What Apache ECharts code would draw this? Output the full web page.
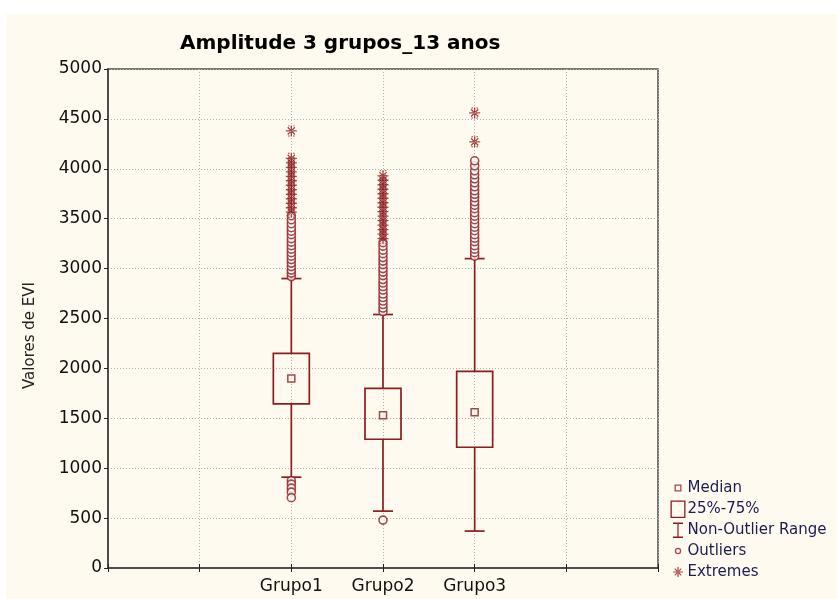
<!DOCTYPE html>
<html>
<head>
<meta charset="utf-8">
<script src="https://cdn.jsdelivr.net/npm/echarts@6/dist/echarts.min.js"></script>
<style>
html,body{margin:0;padding:0;background:#ffffff;width:837px;height:599px;overflow:hidden;}
#c{position:absolute;left:6px;top:14px;width:831px;height:585px;background:#fffaef;}
</style>
</head>
<body>
<div id="c"></div>
<script>
// ---- data ----
var categories = ['Grupo1', 'Grupo2', 'Grupo3'];
var medians = [1900, 1530, 1560];
var q1s = [1645, 1290, 1210];
var q3s = [2150, 1800, 1970];
var whiskerLow = [910, 570, 370];
var whiskerHigh = [2900, 2540, 3100];
var outliers1 = [875, 840, 800, 760, 705, 2920, 2955, 2985, 3020, 3055, 3090, 3125, 3160, 3195, 3230, 3265, 3300, 3340, 3375, 3410, 3450, 3490, 3530];
var extremes1 = [3565, 3610, 3655, 3700, 3745, 3790, 3835, 3880, 3925, 3970, 4015, 4060, 4105, 4380];
var outliers2 = [480, 2570, 2605, 2640, 2675, 2710, 2745, 2785, 2820, 2855, 2890, 2930, 2965, 3000, 3040, 3075, 3110, 3150, 3185, 3225, 3260];
var extremes2 = [3300, 3345, 3390, 3435, 3480, 3525, 3570, 3615, 3660, 3705, 3750, 3795, 3840, 3885, 3930];
var outliers3 = [3125, 3160, 3195, 3230, 3270, 3305, 3340, 3380, 3415, 3450, 3490, 3525, 3560, 3600, 3635, 3670, 3710, 3745, 3780, 3820, 3860, 3900, 3940, 3980, 4030, 4080];
var extremes3 = [4270, 4560];
var yTicks = [0, 500, 1000, 1500, 2000, 2500, 3000, 3500, 4000, 4500, 5000];

var RED = '#8c1d1d';
var FONT = 'DejaVu Sans, Liberation Sans, Arial, sans-serif';
var catPos = function (i) { return i + 2; };
var labelMap = {};
categories.forEach(function (c, i) { labelMap[catPos(i)] = c; });

function pts(i, arr) { return arr.map(function (v) { return [catPos(i), v]; }); }
var outlierData = [].concat(pts(0, outliers1), pts(1, outliers2), pts(2, outliers3));
var extremeData = [].concat(pts(0, extremes1), pts(1, extremes2), pts(2, extremes3));
var boxData = categories.map(function (c, i) { return [catPos(i), q1s[i], q3s[i]]; });
var whiskData = categories.map(function (c, i) { return [catPos(i), whiskerLow[i], q1s[i], q3s[i], whiskerHigh[i]]; });
var medData = categories.map(function (c, i) { return [catPos(i), medians[i]]; });

var ASTER = 'path://M4.4,0H5.6V10H4.4Z M0,4.4H10V5.6H0Z M1.3,2.1L2.1,1.3L8.7,7.9L7.9,8.7Z M8.7,2.1L7.9,1.3L1.3,7.9L2.1,8.7Z M2,0H3.5V0.9H2Z M6.5,0H8V0.9H6.5Z M2,9.1H3.5V10H2Z M6.5,9.1H8V10H6.5Z';
var FRAME = 'M0,0h0.01v0.01h-0.01Z M16,18h0.01v0.01h-0.01Z ';
var legendStyle = { color: RED, borderWidth: 0 };

var chart = echarts.init(document.getElementById('c'));
chart.setOption({
  animation: false,
  backgroundColor: '#fffaef',
  textStyle: { fontFamily: FONT },
  title: {
    text: 'Amplitude 3 grupos_13 anos',
    left: 169, top: 15,
    textStyle: { fontSize: 20, fontWeight: 'bold', color: '#000', fontFamily: FONT }
  },
  grid: { left: 102, top: 55, width: 550, height: 499, show: true, borderColor: '#4a4a4a', borderWidth: 1.5, backgroundColor: 'transparent' },
  legend: {
    orient: 'vertical', left: 659, top: 460, itemGap: 3, itemWidth: 17, itemHeight: 18,
    textStyle: { fontSize: 15, color: '#1c1c4e', padding: [0, 0, 0, -4], fontFamily: FONT },
    data: [
      { name: 'Median', icon: 'path://' + FRAME + 'M4.5,5.5H11.5V12.5H4.5Z M5.8,6.8V11.2H10.2V6.8Z', itemStyle: legendStyle },
      { name: '25%-75%', icon: 'path://' + FRAME + 'M0.5,0.5H15.5V18H0.5Z M1.8,1.8V16.7H14.2V1.8Z', itemStyle: legendStyle },
      { name: 'Non-Outlier Range', icon: 'path://' + FRAME + 'M3,1.5H13V2.9H3Z M7.4,2H8.6V16H7.4Z M3,15.6H13V17H3Z', itemStyle: legendStyle },
      { name: 'Outliers', icon: 'path://' + FRAME + 'M4.8,9A3.2,3.2 0 1,0 11.2,9A3.2,3.2 0 1,0 4.8,9Z M6.1,9A1.9,1.9 0 1,1 9.9,9A1.9,1.9 0 1,1 6.1,9Z', itemStyle: legendStyle },
      { name: 'Extremes', icon: 'path://' + FRAME + 'M7.4,4H8.6V14H7.4Z M3,8.4H13V9.6H3Z M4.3,6.1L5.1,5.3L11.7,11.9L10.9,12.7Z M11.7,6.1L10.9,5.3L4.3,11.9L5.1,12.7Z', itemStyle: legendStyle }
    ]
  },
  xAxis: [{
    type: 'value', min: 0, max: 6, interval: 1,
    axisLine: { show: true, lineStyle: { color: '#4a4a4a', width: 1.5 } },
    axisTick: { show: true, inside: true, length: 4, lineStyle: { color: '#222' } },
    splitLine: { show: true, lineStyle: { color: '#b0b0b0', type: [1, 2], width: 1 } },
    axisLabel: {
      fontSize: 17, color: '#111', margin: 10, fontFamily: FONT,
      formatter: function (v) { return labelMap[v] || ''; }
    }
  }, {
    type: 'value', min: 0, max: 6, interval: 1, position: 'top',
    axisLine: { show: true, lineStyle: { color: '#4a4a4a', width: 1.5 } },
    axisTick: { show: true, inside: true, length: 4, lineStyle: { color: '#222' } },
    axisLabel: { show: false }, splitLine: { show: false }
  }],
  yAxis: [{
    type: 'value', min: 0, max: 5000, interval: 500,
    name: 'Valores de EVI', nameLocation: 'middle', nameGap: 70,
    nameTextStyle: { fontSize: 15, color: '#222', fontFamily: FONT, padding: [0, 34, 0, 0] },
    axisLine: { show: true, lineStyle: { color: '#4a4a4a', width: 1.5 } },
    axisTick: { show: true, length: 4, lineStyle: { color: '#222' } },
    splitLine: { show: true, lineStyle: { color: '#b0b0b0', type: [1, 2], width: 1 } },
    axisLabel: { fontSize: 17, color: '#111', margin: 6, fontFamily: FONT, formatter: function (v) { return yTicks.indexOf(v) >= 0 ? String(v) : ''; } }
  }, {
    type: 'value', min: 0, max: 5000, interval: 500, position: 'right',
    axisLine: { show: true, lineStyle: { color: '#4a4a4a', width: 1.5 } },
    axisTick: { show: false }, axisLabel: { show: false }, splitLine: { show: false }
  }],
  series: [
    {
      name: 'Non-Outlier Range', type: 'custom', itemStyle: { color: RED },
      data: whiskData, z: 3,
      renderItem: function (params, api) {
        var x = api.value(0);
        var pL = api.coord([x, api.value(1)]);
        var pQ1 = api.coord([x, api.value(2)]);
        var pQ3 = api.coord([x, api.value(3)]);
        var pH = api.coord([x, api.value(4)]);
        var hw = 10;
        var st = { stroke: RED, lineWidth: 1.7 };
        return { type: 'group', children: [
          { type: 'line', shape: { x1: pL[0], y1: pL[1], x2: pQ1[0], y2: pQ1[1] }, style: st },
          { type: 'line', shape: { x1: pQ3[0], y1: pQ3[1], x2: pH[0], y2: pH[1] }, style: st },
          { type: 'line', shape: { x1: pL[0] - hw, y1: pL[1], x2: pL[0] + hw, y2: pL[1] }, style: st },
          { type: 'line', shape: { x1: pH[0] - hw, y1: pH[1], x2: pH[0] + hw, y2: pH[1] }, style: st }
        ] };
      }
    },
    {
      name: '25%-75%', type: 'custom', itemStyle: { color: RED },
      data: boxData, z: 4,
      renderItem: function (params, api) {
        var x = api.value(0);
        var a = api.coord([x, api.value(2)]);
        var b = api.coord([x, api.value(1)]);
        var hw = 18;
        return { type: 'rect', shape: { x: a[0] - hw, y: a[1], width: hw * 2, height: b[1] - a[1] },
          style: { fill: 'none', stroke: RED, lineWidth: 1.7 } };
      }
    },
    {
      name: 'Median', type: 'scatter', data: medData, symbol: 'rect', symbolSize: 7, z: 5,
      itemStyle: { color: '#fffaef', borderColor: RED, borderWidth: 1.5 }
    },
    {
      name: 'Outliers', type: 'scatter', data: outlierData, symbol: 'circle', symbolSize: 8, z: 5,
      itemStyle: { color: '#ffffff', borderColor: RED, borderWidth: 1.6 }
    },
    {
      name: 'Extremes', type: 'scatter', data: extremeData, symbol: ASTER, symbolSize: 11, z: 6,
      itemStyle: { color: RED }
    }
  ]
});
</script>
</body>
</html>
